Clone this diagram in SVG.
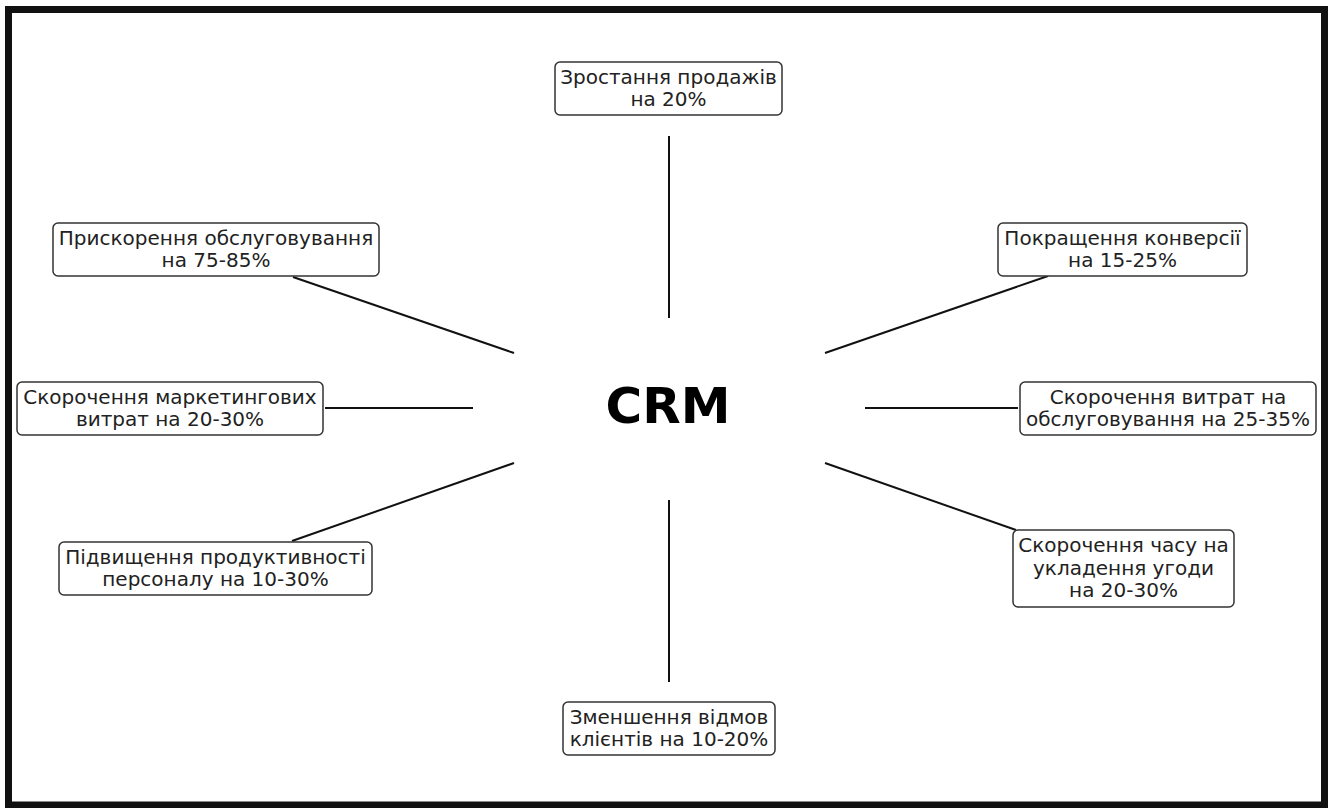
<svg xmlns="http://www.w3.org/2000/svg" width="1332" height="808" viewBox="0 0 1332 808">
<style>
.box{fill:#fff;stroke:#333;stroke-width:1.5}
.t{font-family:"DejaVu Sans",sans-serif;font-size:20px;fill:#222;text-anchor:middle}
.c{stroke:#111;stroke-width:2;fill:none}
</style>
<rect x="0" y="0" width="1332" height="808" fill="#fff"/>
<rect x="8.5" y="9.5" width="1316" height="795.5" fill="none" stroke="#111" stroke-width="7"/>
<g id="connectors">
<line class="c" x1="669" y1="136" x2="669" y2="318"/>
<line class="c" x1="669" y1="500" x2="669" y2="682"/>
<line class="c" x1="325" y1="408" x2="473" y2="408"/>
<line class="c" x1="865" y1="408" x2="1018" y2="408"/>
<line class="c" x1="293" y1="277" x2="514" y2="353"/>
<line class="c" x1="1048" y1="276" x2="825" y2="353"/>
<line class="c" x1="514" y1="463" x2="292" y2="541"/>
<line class="c" x1="825" y1="463" x2="1016" y2="530"/>
</g>
<g id="crm"><text x="668" y="423" font-family="DejaVu Sans,sans-serif" font-weight="bold" font-size="50" text-anchor="middle" fill="#000">CRM</text></g>
<g id="n1"><rect class="box" x="555" y="62" width="227" height="53" rx="5"/><text class="t" x="668.5" y="84">Зростання продажів</text><text class="t" x="668.5" y="106">на 20%</text></g>
<g id="n2"><rect class="box" x="53" y="223" width="326" height="53" rx="5"/><text class="t" x="216" y="245">Прискорення обслуговування</text><text class="t" x="216" y="267">на 75-85%</text></g>
<g id="n3"><rect class="box" x="998" y="223" width="249" height="53" rx="5"/><text class="t" x="1122.5" y="245">Покращення конверсії</text><text class="t" x="1122.5" y="267">на 15-25%</text></g>
<g id="n4"><rect class="box" x="17" y="382" width="306" height="53" rx="5"/><text class="t" x="170" y="404">Скорочення маркетингових</text><text class="t" x="170" y="426">витрат на 20-30%</text></g>
<g id="n5"><rect class="box" x="1020" y="382" width="296" height="53" rx="5"/><text class="t" x="1168" y="404">Скорочення витрат на</text><text class="t" x="1168" y="426">обслуговування на 25-35%</text></g>
<g id="n6"><rect class="box" x="59" y="542" width="313" height="53" rx="5"/><text class="t" x="215.5" y="564">Підвищення продуктивності</text><text class="t" x="215.5" y="586">персоналу на 10-30%</text></g>
<g id="n7"><rect class="box" x="1013" y="530" width="221" height="77" rx="5"/><text class="t" x="1123.5" y="552">Скорочення часу на</text><text class="t" x="1123.5" y="574.5">укладення угоди</text><text class="t" x="1123.5" y="597">на 20-30%</text></g>
<g id="n8"><rect class="box" x="563" y="702" width="212" height="53" rx="5"/><text class="t" x="669" y="724">Зменшення відмов</text><text class="t" x="669" y="746">клієнтів на 10-20%</text></g>
</svg>
